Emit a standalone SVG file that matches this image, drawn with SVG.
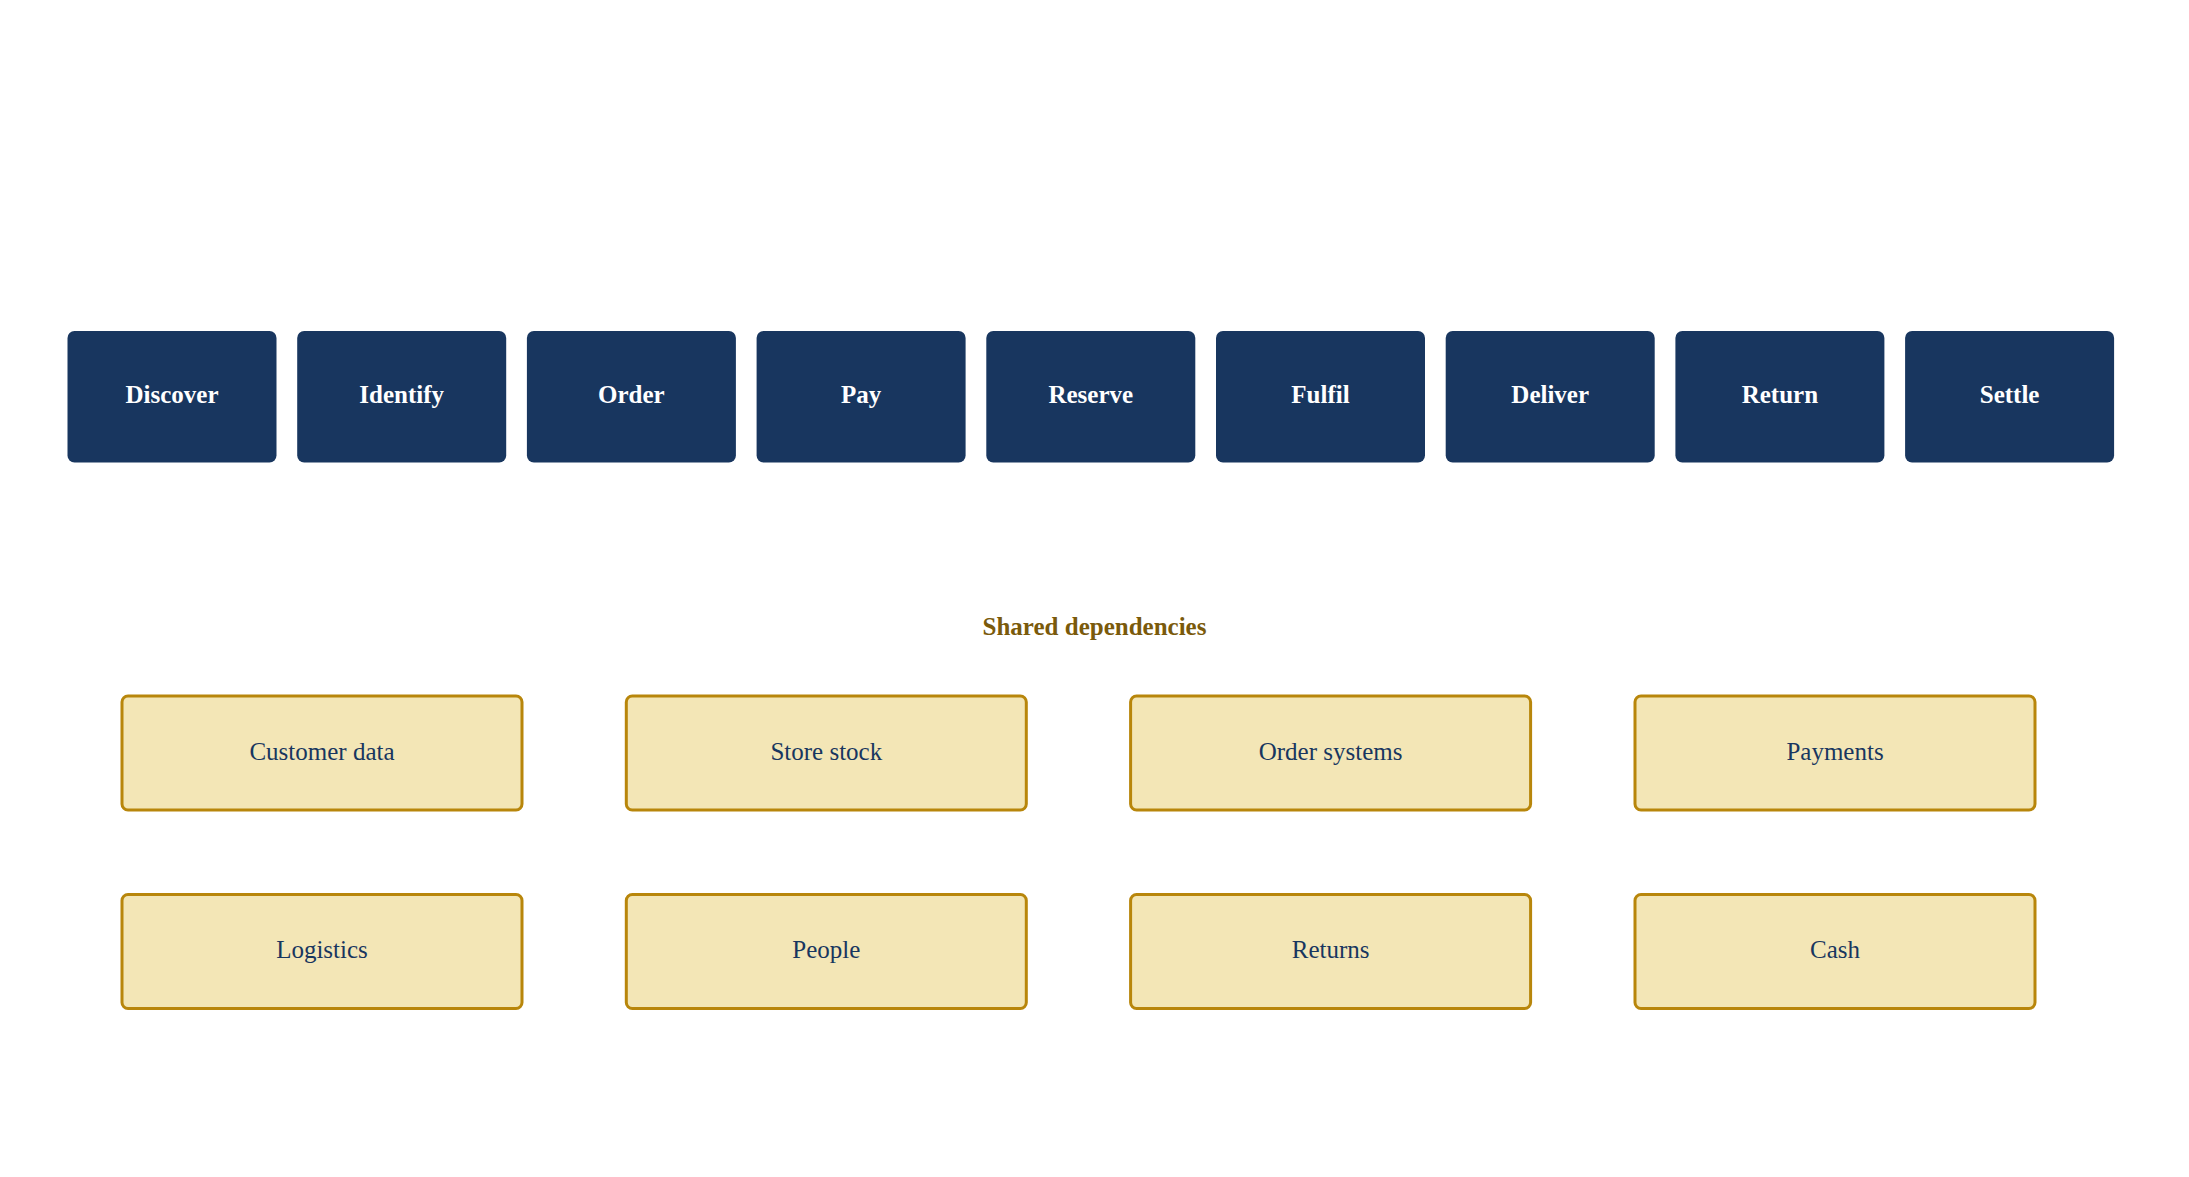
<svg xmlns="http://www.w3.org/2000/svg" width="2189" height="1177" viewBox="0 0 2189 1177">
<style>
.step rect{fill:#18365f;}
.step text{fill:#ffffff;font-family:"Liberation Serif","Times New Roman",serif;font-weight:bold;font-size:25px;text-anchor:middle;}
.dep rect{fill:#f3e6b6;stroke:#b8860b;stroke-width:3;}
.dep text{fill:#18365f;font-family:"Liberation Serif","Times New Roman",serif;font-size:25px;text-anchor:middle;}
.title{fill:#7a5a0b;font-family:"Liberation Serif","Times New Roman",serif;font-weight:bold;font-size:25px;text-anchor:middle;}
</style>
<rect width="2189" height="1177" fill="#ffffff"/>
<g id="connectors"></g>
<g id="n-discover" class="step"><rect x="67.5" y="331" width="209" height="131.5" rx="7"/><text x="172" y="402.5">Discover</text></g>
<g id="n-identify" class="step"><rect x="297.2" y="331" width="209" height="131.5" rx="7"/><text x="401.7" y="402.5">Identify</text></g>
<g id="n-order" class="step"><rect x="526.9" y="331" width="209" height="131.5" rx="7"/><text x="631.4" y="402.5">Order</text></g>
<g id="n-pay" class="step"><rect x="756.6" y="331" width="209" height="131.5" rx="7"/><text x="861.1" y="402.5">Pay</text></g>
<g id="n-reserve" class="step"><rect x="986.3" y="331" width="209" height="131.5" rx="7"/><text x="1090.8" y="402.5">Reserve</text></g>
<g id="n-fulfil" class="step"><rect x="1216" y="331" width="209" height="131.5" rx="7"/><text x="1320.5" y="402.5">Fulfil</text></g>
<g id="n-deliver" class="step"><rect x="1445.7" y="331" width="209" height="131.5" rx="7"/><text x="1550.2" y="402.5">Deliver</text></g>
<g id="n-return" class="step"><rect x="1675.4" y="331" width="209" height="131.5" rx="7"/><text x="1779.9" y="402.5">Return</text></g>
<g id="n-settle" class="step"><rect x="1905.1" y="331" width="209" height="131.5" rx="7"/><text x="2009.6" y="402.5">Settle</text></g>
<text id="shared-title" class="title" x="1094.5" y="635">Shared dependencies</text>
<g id="d-customer-data" class="dep"><rect x="122" y="696" width="400" height="114" rx="6"/><text x="322" y="759.5">Customer data</text></g>
<g id="d-store-stock" class="dep"><rect x="626.3" y="696" width="400" height="114" rx="6"/><text x="826.3" y="759.5">Store stock</text></g>
<g id="d-order-systems" class="dep"><rect x="1130.6" y="696" width="400" height="114" rx="6"/><text x="1330.6" y="759.5">Order systems</text></g>
<g id="d-payments" class="dep"><rect x="1635" y="696" width="400" height="114" rx="6"/><text x="1835" y="759.5">Payments</text></g>
<g id="d-logistics" class="dep"><rect x="122" y="894.5" width="400" height="114" rx="6"/><text x="322" y="958">Logistics</text></g>
<g id="d-people" class="dep"><rect x="626.3" y="894.5" width="400" height="114" rx="6"/><text x="826.3" y="958">People</text></g>
<g id="d-returns" class="dep"><rect x="1130.6" y="894.5" width="400" height="114" rx="6"/><text x="1330.6" y="958">Returns</text></g>
<g id="d-cash" class="dep"><rect x="1635" y="894.5" width="400" height="114" rx="6"/><text x="1835" y="958">Cash</text></g>
</svg>
